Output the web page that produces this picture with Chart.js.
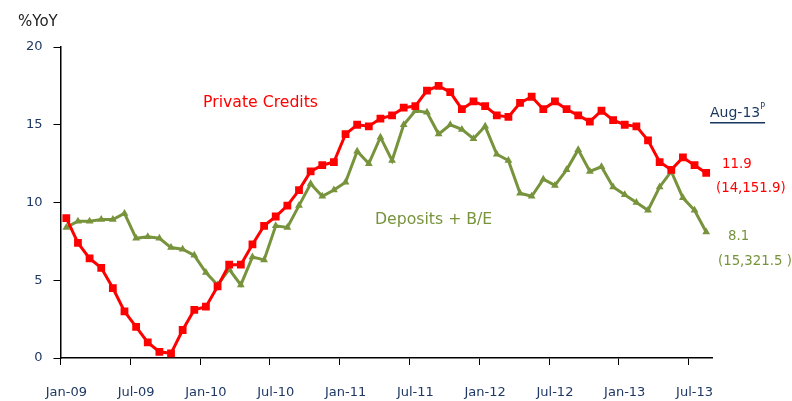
<!DOCTYPE html>
<html>
<head>
<meta charset="utf-8">
<script src="https://cdn.jsdelivr.net/npm/chart.js@4"></script>
<style>
  html, body { margin: 0; padding: 0; background: #fff; }
  #wrap { width: 792px; height: 401px; position: relative; }
</style>
</head>
<body>
<div id="wrap"><canvas id="yoyChart"></canvas></div>
<script>
// Jan-09 .. Aug-13, monthly
const years = ['09', '10', '11', '12', '13'];
const months = ['Jan', 'Feb', 'Mar', 'Apr', 'May', 'Jun', 'Jul', 'Aug', 'Sep', 'Oct', 'Nov', 'Dec'];
const labels = [];
years.forEach(y => months.forEach(m => labels.push(m + '-' + y)));
labels.length = 56;

const privateCredits = [
  9.0, 7.4, 6.4, 5.8, 4.5, 3.0, 2.0, 1.0, 0.4, 0.3, 1.8, 3.1,
  3.3, 4.6, 6.0, 6.0, 7.3, 8.5, 9.1, 9.8, 10.8, 12.0, 12.4, 12.6,
  14.4, 15.0, 14.9, 15.4, 15.6, 16.1, 16.2, 17.2, 17.5, 17.1, 16.0, 16.5,
  16.2, 15.6, 15.5, 16.4, 16.8, 16.0, 16.5, 16.0, 15.6, 15.2, 15.9, 15.3,
  15.0, 14.9, 14.0, 12.6, 12.1, 12.9, 12.4, 11.9
];
const depositsBE = [
  8.4, 8.8, 8.8, 8.9, 8.9, 9.3, 7.7, 7.8, 7.7, 7.1, 7.0, 6.6,
  5.5, 4.7, 5.7, 4.7, 6.5, 6.3, 8.5, 8.4, 9.8, 11.2, 10.4, 10.8,
  11.3, 13.3, 12.5, 14.2, 12.7, 15.0, 15.9, 15.8, 14.4, 15.0, 14.7, 14.1,
  14.9, 13.1, 12.7, 10.6, 10.4, 11.5, 11.1, 12.1, 13.4, 12.0, 12.3, 11.0,
  10.5, 10.0, 9.5, 11.0, 12.0, 10.3, 9.5, 8.1
];

const RED = '#FF0000';
const GREEN = '#77933C';
const NAVY = '#1F3864';
const FONT = '"DejaVu Sans", sans-serif';

// labels drawn on the canvas
const notes = {
  id: 'notes',
  afterDraw(chart) {
    const c = chart.ctx;
    c.save();
    c.textBaseline = 'middle';
    c.textAlign = 'left';

    c.fillStyle = '#222';
    c.font = '15px ' + FONT;
    c.fillText('%YoY', 18, 22);

    c.font = '15.7px ' + FONT;
    c.fillStyle = RED;
    c.fillText('Private Credits', 203, 103);
    c.fillStyle = GREEN;
    c.fillText('Deposits + B/E', 375, 220);

    // Aug-13 with superscript P, underlined
    c.fillStyle = '#17375E';
    c.font = '14px ' + FONT;
    c.fillText('Aug-13', 710, 113);
    const w = c.measureText('Aug-13').width;
    c.font = '8px ' + FONT;
    c.fillText('P', 710 + w, 107);
    const wp = c.measureText('P').width;
    c.fillRect(710, 122, w + wp, 1.5);

    c.font = '13.3px ' + FONT;
    c.fillStyle = RED;
    c.fillText('11.9', 722, 165);
    c.fillText('(14,151.9)', 716, 189);
    c.fillStyle = GREEN;
    c.fillText('8.1', 728, 237);
    c.fillText('(15,321.5 )', 718, 262);
    c.restore();
  }
};

new Chart(document.getElementById('yoyChart'), {
  type: 'line',
  data: {
    labels: labels,
    datasets: [{
      label: 'Private Credits',
      data: privateCredits,
      borderColor: RED,
      backgroundColor: RED,
      borderWidth: 3,
      pointStyle: 'rect',
      pointRadius: 5.5,
      pointBorderWidth: 0,
      tension: 0
    }, {
      label: 'Deposits + B/E',
      data: depositsBE,
      borderColor: GREEN,
      backgroundColor: GREEN,
      borderWidth: 3,
      pointStyle: 'triangle',
      pointRadius: 4.5,
      pointBorderWidth: 0,
      tension: 0
    }]
  },
  options: {
    responsive: true,
    maintainAspectRatio: false,
    animation: false,
    layout: { padding: { top: 47, right: 80, left: 0, bottom: 0 } },
    plugins: {
      legend: { display: false },
      tooltip: { enabled: false }
    },
    scales: {
      x: {
        offset: true,
        grid: {
          offset: true,
          drawOnChartArea: false,
          tickLength: 7,
          tickColor: ctx => (ctx.index % 6 === 0 ? '#000' : 'rgba(0,0,0,0)')
        },
        border: { color: '#000', width: 1.5 },
        ticks: {
          autoSkip: false,
          maxRotation: 0,
          padding: 20,
          color: NAVY,
          font: { family: FONT, size: 13 },
          callback: function (val, i) {
            return i % 6 === 0 ? this.getLabelForValue(val) : '';
          }
        },
        afterFit: s => { s.height = 43; }
      },
      y: {
        min: 0,
        max: 20,
        ticks: {
          stepSize: 5,
          padding: 11,
          color: NAVY,
          font: { family: FONT, size: 13 }
        },
        grid: {
          drawOnChartArea: false,
          tickLength: 7,
          tickColor: '#000'
        },
        border: { color: '#000', width: 1.5 },
        afterFit: s => { s.width = 60.5; }
      }
    }
  },
  plugins: [notes]
});
</script>
</body>
</html>
